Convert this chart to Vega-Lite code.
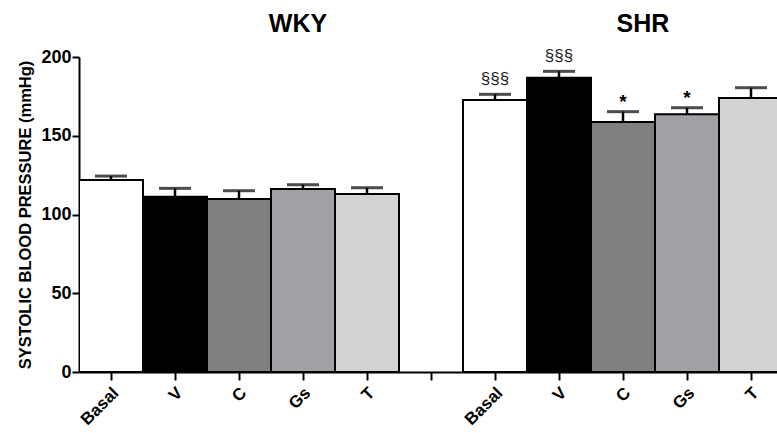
{
  "$schema": "https://vega.github.io/schema/vega-lite/v6.json",
  "width": 698,
  "height": 315,
  "autosize": {"type": "none"},
  "padding": {"left": 79, "top": 57, "right": 0, "bottom": 61},
  "background": "white",
  "config": {
    "view": {"stroke": null},
    "font": "Liberation Sans",
    "axis": {"grid": false, "domainColor": "black", "tickColor": "black", "labelColor": "black", "titleColor": "black", "domainWidth": 2, "tickWidth": 2, "labelFont": "Liberation Sans", "labelFontWeight": "bold", "titleFont": "Liberation Sans", "titleFontWeight": "bold"}
  },
  "data": {
    "values": [
      {"key": "WKY|Basal", "group": "WKY", "treatment": "Basal", "mean": 121.9, "upper": 124.4, "sig": ""},
      {"key": "WKY|V", "group": "WKY", "treatment": "V", "mean": 111.3, "upper": 116.6, "sig": ""},
      {"key": "WKY|C", "group": "WKY", "treatment": "C", "mean": 109.8, "upper": 115.1, "sig": ""},
      {"key": "WKY|Gs", "group": "WKY", "treatment": "Gs", "mean": 116.2, "upper": 118.9, "sig": ""},
      {"key": "WKY|T", "group": "WKY", "treatment": "T", "mean": 113.0, "upper": 117.0, "sig": ""},
      {"key": "SHR|Basal", "group": "SHR", "treatment": "Basal", "mean": 172.7, "upper": 176.3, "sig": "§§§"},
      {"key": "SHR|V", "group": "SHR", "treatment": "V", "mean": 186.9, "upper": 190.9, "sig": "§§§"},
      {"key": "SHR|C", "group": "SHR", "treatment": "C", "mean": 158.7, "upper": 165.3, "sig": "*"},
      {"key": "SHR|Gs", "group": "SHR", "treatment": "Gs", "mean": 163.6, "upper": 167.8, "sig": "*"},
      {"key": "SHR|T", "group": "SHR", "treatment": "T", "mean": 174.0, "upper": 180.5, "sig": ""}
    ]
  },
  "encoding": {
    "x": {
      "field": "key",
      "type": "nominal",
      "sort": null,
      "scale": {
        "domain": ["WKY|Basal", "WKY|V", "WKY|C", "WKY|Gs", "WKY|T", "|", "SHR|Basal", "SHR|V", "SHR|C", "SHR|Gs", "SHR|T"],
        "range": [0, 704],
        "paddingInner": 0,
        "paddingOuter": 0
      },
      "axis": {
        "title": null,
        "labelExpr": "split(datum.label, '|')[1]",
        "labelAngle": -45,
        "labelAlign": "right",
        "labelBaseline": "middle",
        "labelFontSize": 17,
        "labelPadding": 10,
        "labelOffset": 5,
        "tickSize": 8
      }
    }
  },
  "layer": [
    {
      "mark": {"type": "bar", "stroke": "black", "strokeWidth": 2, "clip": true},
      "encoding": {
        "y": {
          "field": "mean",
          "type": "quantitative",
          "scale": {"domain": [0, 200], "nice": false},
          "axis": {
            "title": "SYSTOLIC BLOOD PRESSURE (mmHg)",
            "titleFontSize": 16.5,
            "titlePadding": 7,
            "values": [0, 50, 100, 150, 200],
            "labelFontSize": 18,
            "tickSize": 7,
            "labelPadding": 1
          }
        },
        "fill": {
          "field": "treatment",
          "type": "nominal",
          "scale": {"domain": ["Basal", "V", "C", "Gs", "T"], "range": ["#ffffff", "#000000", "#7f7f7f", "#a1a1a5", "#d3d3d3"]},
          "legend": null
        }
      }
    },
    {
      "mark": {"type": "rule", "color": "black", "strokeWidth": 2.5},
      "encoding": {
        "y": {"field": "mean", "type": "quantitative"},
        "y2": {"field": "upper"}
      }
    },
    {
      "mark": {"type": "tick", "orient": "horizontal", "color": "black", "size": 32, "thickness": 3},
      "encoding": {
        "y": {"field": "upper", "type": "quantitative"}
      }
    },
    {
      "mark": {"type": "text", "font": "Liberation Sans", "fontSize": 17, "baseline": "bottom", "dy": -6, "color": "#222"},
      "transform": [{"filter": "datum.sig == '§§§'"}],
      "encoding": {
        "y": {"field": "upper", "type": "quantitative"},
        "text": {"field": "sig"}
      }
    },
    {
      "mark": {"type": "text", "font": "Liberation Sans", "fontWeight": "bold", "fontSize": 19, "baseline": "top", "dy": -19, "color": "black"},
      "transform": [{"filter": "datum.sig == '*'"}],
      "encoding": {
        "y": {"field": "upper", "type": "quantitative"},
        "text": {"field": "sig"}
      }
    },
    {
      "data": {"values": [{"key": "WKY|Gs", "label": "WKY", "yv": 221}]},
      "mark": {"type": "text", "font": "Liberation Sans", "fontWeight": "bold", "fontSize": 25, "baseline": "middle", "dx": -5, "clip": false},
      "encoding": {"y": {"field": "yv", "type": "quantitative"}, "text": {"field": "label"}}
    },
    {
      "data": {"values": [{"key": "SHR|C", "label": "SHR", "yv": 221}]},
      "mark": {"type": "text", "font": "Liberation Sans", "fontWeight": "bold", "fontSize": 25, "baseline": "middle", "dx": 20, "clip": false},
      "encoding": {"y": {"field": "yv", "type": "quantitative"}, "text": {"field": "label"}}
    }
  ]
}
